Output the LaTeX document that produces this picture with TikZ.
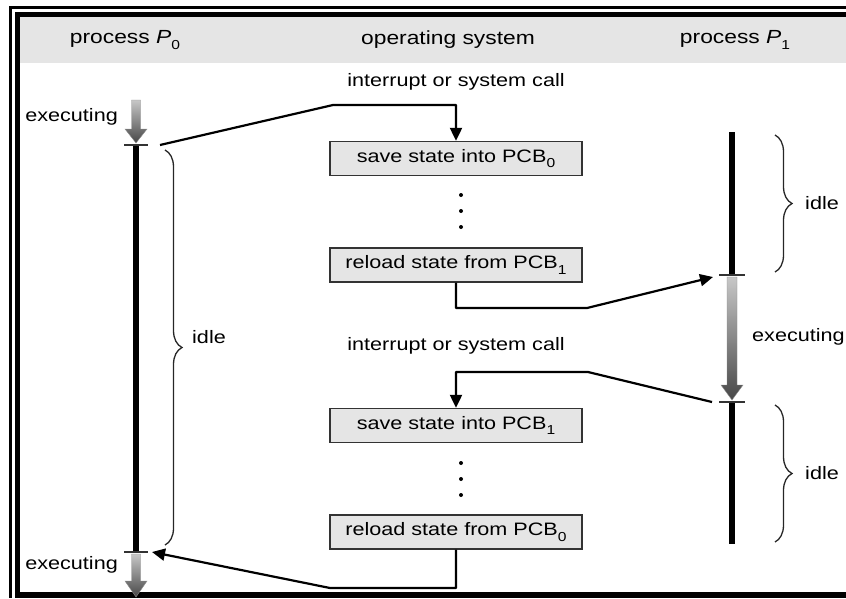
\documentclass[tikz,border=0pt]{standalone}
\usepackage{fontspec}
\setmainfont{Liberation Sans}[FakeStretch=1.2]
\usetikzlibrary{arrows.meta,decorations.pathreplacing}
\newcommand\lowsub[1]{\raisebox{-0.55ex}{\fontsize{13}{13}\selectfont #1}}
\begin{document}
\begin{tikzpicture}[x=1pt,y=-1pt,
  lbl/.style={font=\fontsize{18}{20}\selectfont, inner sep=0pt},
  hdr/.style={font=\fontsize{19}{22}\selectfont, inner sep=0pt},
  osbox/.style={draw=black!80, line width=1.4pt, fill=black!10, minimum width=252pt, minimum height=34pt, inner sep=0pt, font=\fontsize{18}{20}\selectfont},
  conn/.style={line width=2.2pt, line join=round, -{Triangle[length=13pt,width=12pt]}},
  timeline/.style={line width=6.5pt},
  tickmark/.style={line width=1.6pt, black!80},
  idlebrace/.style={decorate, decoration={brace, amplitude=17pt}, line width=1.3pt, black!85},
  grayarrow/.style={top color=black!22, bottom color=black!72, draw=black!45, line width=0.4pt},
]
\useasboundingbox (0,0) rectangle (846,598);
% frame
\fill[black!10] (20,17) rectangle (846,63);
\fill[black] (9,6) rectangle (846,9);
\fill[black] (9,6) rectangle (12,598);
\fill[black] (15,12) rectangle (846,17);
\fill[black] (15,12) rectangle (20,598);
\fill[black] (15,592) rectangle (846,598);
% headers
\node[hdr] (hP0) at (125,40) {process \textit{P}\lowsub{0}};
\node[hdr] (hOS) at (448,40) {operating system};
\node[hdr] (hP1) at (735,40) {process \textit{P}\lowsub{1}};
% OS column
\node[lbl] (int1) at (456,82) {interrupt or system call};
\node[lbl] (int2) at (456,346) {interrupt or system call};
\node[osbox] (b1) at (456,158.5) {save state into PCB\lowsub{0}};
\node[osbox] (b2) at (456,265) {reload state from PCB\lowsub{1}};
\node[osbox] (b3) at (456,425.5) {save state into PCB\lowsub{1}};
\node[osbox] (b4) at (456,532) {reload state from PCB\lowsub{0}};
\foreach \y in {195,211,227,463,479,495} \fill (461,\y) circle (2pt);
% process P0
\coordinate (p0top) at (136,145);
\coordinate (p0bot) at (136,552);
\shade[grayarrow] (131.5,100) -- (140.5,100) -- (140.5,129) -- (147,129) -- (136,143) -- (125,129) -- (131.5,129) -- cycle;
\draw[timeline] (p0top) -- (p0bot);
\draw[tickmark] (124,145) -- (148,145);
\draw[tickmark] (124,552) -- (148,552);
\shade[grayarrow] (131.5,554) -- (140.5,554) -- (140.5,581) -- (147,581) -- (136,597) -- (125,581) -- (131.5,581) -- cycle;
\node[lbl, anchor=east] (ex0a) at (118,117) {executing};
\node[lbl, anchor=east] (ex0b) at (118,565) {executing};
\draw[idlebrace] (165,150) -- (165,545);
\node[lbl, anchor=west] (idle0) at (192,337) {idle};
% process P1
\coordinate (p1top) at (732,132);
\coordinate (p1ex) at (732,275);
\coordinate (p1id) at (732,402);
\coordinate (p1bot) at (732,544);
\draw[timeline] (p1top) -- (p1ex);
\draw[timeline] (p1id) -- (p1bot);
\shade[grayarrow] (727,277) -- (737,277) -- (737,385) -- (743,385) -- (732,400) -- (721,385) -- (727,385) -- cycle;
\draw[tickmark] (719,275) -- (745,275);
\draw[tickmark] (719,402) -- (745,402);
\node[lbl, anchor=west] (ex1) at (752,337) {executing};
\draw[idlebrace] (775,135) -- (775,272);
\node[lbl, anchor=west] (idle1a) at (805,203) {idle};
\draw[idlebrace] (775,405) -- (775,542);
\node[lbl, anchor=west] (idle1b) at (805,473) {idle};
% connectors
\coordinate (c1s) at (160,145);
\coordinate (c1t) at (713,277);
\coordinate (c2s) at (712,402);
\coordinate (c3t) at (152,552);
\draw[conn] (c1s) -- (333,105) -| (b1.north);
\draw[conn] (b2.south) |- (587,308) -- (c1t);
\draw[conn] (c2s) -- (588,372) -| (b3.north);
\draw[conn] (b4.south) |- (330,588) -- (c3t);
\end{tikzpicture}
\end{document}
